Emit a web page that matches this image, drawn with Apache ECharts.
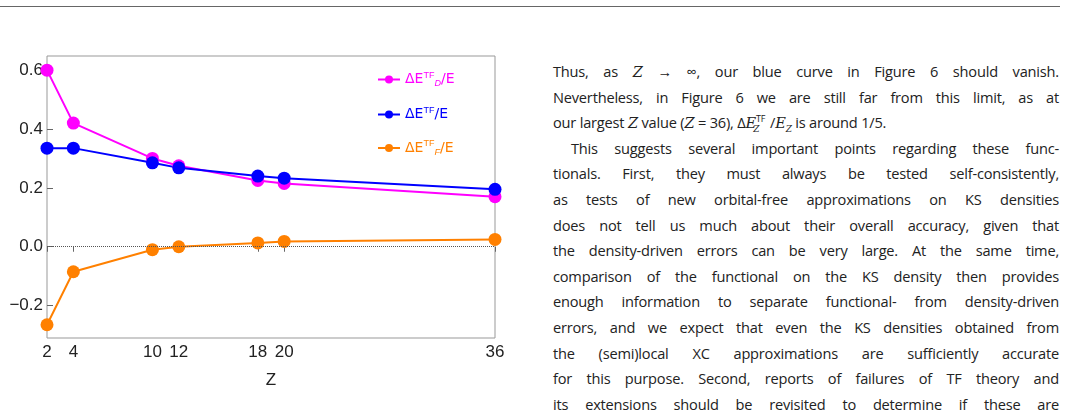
<!DOCTYPE html><html><head><meta charset="utf-8">
<script src="https://cdn.jsdelivr.net/npm/echarts@6/dist/echarts.min.js"></script>
<style>
body{margin:0;width:1068px;height:410px;background:#fff;position:relative;overflow:hidden;font-family:"DejaVu Sans",sans-serif}
#rule{position:absolute;left:0;top:6px;width:1060px;height:1px;background:#666}
#c{position:absolute;left:0;top:0;width:540px;height:410px}
#t{position:absolute;left:553px;top:59px;width:506px;font-family:"Open Sans";font-size:14.6px;line-height:25.6px;color:#222;letter-spacing:-0.2px}
#t div{text-align:justify;text-align-last:justify;white-space:nowrap;overflow:visible}
#t div.l{text-align-last:left}
#t i{font-family:"DejaVu Serif";}
.ind{padding-left:18px}
sub,sup{font-size:9px;line-height:0}
</style></head><body>
<div id="rule"></div>
<div id="c"></div>
<div id="t">
<div>Thus, as <i>Z</i> → ∞, our blue curve in Figure 6 should vanish.</div>
<div>Nevertheless, in Figure 6 we are still far from this limit, as at</div>
<div class="l">our largest <i>Z</i> value (<i>Z</i> = 36), Δ<i>E</i><sup>TF</sup><sub style="margin-left:-12px"><i>Z</i></sub>&nbsp;&nbsp;&nbsp;/<i>E<sub>Z</sub></i> is around 1/5.</div>
<div class="ind">This suggests several important points regarding these func-</div>
<div>tionals. First, they must always be tested self-consistently,</div>
<div>as tests of new orbital-free approximations on KS densities</div>
<div>does not tell us much about their overall accuracy, given that</div>
<div>the density-driven errors can be very large. At the same time,</div>
<div>comparison of the functional on the KS density then provides</div>
<div>enough information to separate functional- from density-driven</div>
<div>errors, and we expect that even the KS densities obtained from</div>
<div>the (semi)local XC approximations are sufficiently accurate</div>
<div>for this purpose. Second, reports of failures of TF theory and</div>
<div>its extensions should be revisited to determine if these are</div>
</div>
<script>
const Z=[2,4,10,12,18,20,36];
const dD=[0.60,0.42,0.30,0.275,0.225,0.215,0.17];
const dT=[0.335,0.335,0.285,0.268,0.24,0.233,0.195];
const dF=[-0.265,-0.085,-0.01,0.0,0.013,0.018,0.025];
const yTicks=[-0.2,0,0.2,0.4,0.6];
const names=['D','T','F'];
const cols=['#ff00ff','#0000ff','#ff8000'];
const ch=echarts.init(document.getElementById('c'));
const mk=(a)=>Z.map((z,i)=>[z,a[i]]);
const rich={};
cols.forEach((c,i)=>{rich['m'+i]={color:c,fontSize:14,fontFamily:'DejaVu Sans'};rich['s'+i]={color:c,fontSize:9,verticalAlign:'top',padding:[0,0,8,0]};rich['b'+i]={color:c,fontSize:9,fontStyle:'italic',verticalAlign:'bottom',padding:[0,0,0,0]};});
ch.setOption({
animation:false,
grid:{left:47,right:45,top:56,bottom:72,show:true,borderColor:'#999',borderWidth:1},
xAxis:{type:'value',min:2,max:36,name:'Z',nameLocation:'middle',nameGap:34,nameTextStyle:{fontSize:17,color:'#222'},
 axisLine:{show:false},splitLine:{show:false},
 axisTick:{show:true,customValues:Z,length:5,lineStyle:{color:'#666'}},
 axisLabel:{customValues:Z,fontSize:17,color:'#222',margin:6}},
yAxis:{type:'value',min:-0.31,max:0.648,axisLine:{show:false},splitLine:{show:false},
 axisTick:{show:true,inside:true,customValues:yTicks,length:6,lineStyle:{color:'#666'}},
 axisLabel:{customValues:yTicks,fontSize:17,color:'#222',margin:4,formatter:v=>v<0?'−'+Math.abs(v).toFixed(1):v.toFixed(1)}},
legend:{orient:'vertical',left:372,top:66,itemGap:18,itemWidth:22,itemHeight:10,
 data:[0,1,2].map(i=>({name:names[i],textStyle:{color:cols[i]}})),
 formatter:n=>{const i=names.indexOf(n);return n==='T'?'{m1|ΔE}{s1|TF}{m1|/E}':'{m'+i+'|ΔE}{s'+i+'|TF}{b'+i+'|'+n+'}{m'+i+'|/E}';},
 textStyle:{rich}},
series:[dD,dT,dF].map((a,i)=>({name:names[i],type:'line',data:mk(a),color:cols[i],symbol:'circle',symbolSize:13,lineStyle:{width:2},
 markLine:i==2?{silent:true,symbol:'none',label:{show:false},lineStyle:{color:'#555',type:'dotted',width:1},data:[{yAxis:0}]}:undefined}))
});
</script></body></html>
